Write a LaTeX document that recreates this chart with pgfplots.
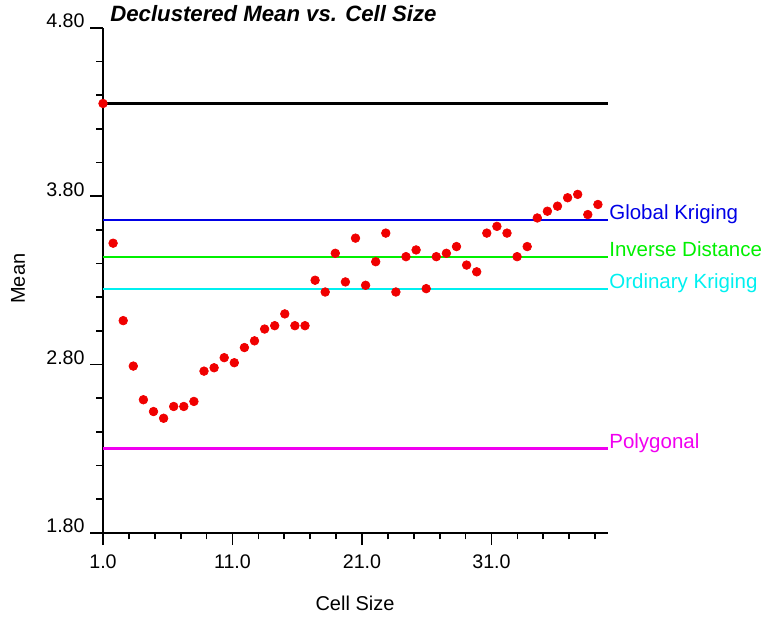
\documentclass[border=0pt]{standalone}
\usepackage{fontspec}
\setmainfont{Liberation Sans}
\usepackage{pgfplots}
\pgfplotsset{compat=1.18}
\definecolor{gkblue}{HTML}{0000E6}
\definecolor{idgreen}{HTML}{00F000}
\definecolor{okcyan}{HTML}{00F0F0}
\definecolor{polymag}{HTML}{F000F0}
\definecolor{ptred}{HTML}{F00000}

\begin{document}
\begin{tikzpicture}
\begin{axis}[
  width=303pt, height=303pt, scale only axis,
  xmin=1, xmax=40, ymin=1.8, ymax=4.8,
  axis x line=bottom, axis y line=left,
  axis line style={line width=1.2pt, -},
  clip=false,
  xtick={1,11,21,31},
  minor xtick={3,5,7,9,13,15,17,19,23,25,27,29,33,35,37,39},
  ytick={1.8,2.8,3.8,4.8},
  minor ytick={2.0,2.2,2.4,2.6,3.0,3.2,3.4,3.6,4.0,4.2,4.4,4.6},
  tick align=outside,
  major tick length=7.5pt, minor tick length=4pt,
  every tick/.style={black, line width=1pt},
  /pgf/number format/assume math mode=true,
  tick label style={font=\fontsize{11.8}{13}\selectfont},
  xticklabel style={/pgf/number format/fixed, /pgf/number format/fixed zerofill, /pgf/number format/precision=1, yshift=-2pt},
  yticklabel style={/pgf/number format/fixed, /pgf/number format/fixed zerofill, /pgf/number format/precision=2, anchor=base east, xshift=0pt},
  xlabel={Cell Size}, ylabel={Mean},
  every axis x label/.style={at={(axis description cs:0.499,-0.139)}, anchor=center, font=\fontsize{12}{14}\selectfont},
  every axis y label/.style={at={(axis description cs:-0.168,0.503)}, anchor=center, rotate=90, font=\fontsize{12}{14}\selectfont},
  title={Declustered Mean vs. Cell Size},
  every axis title/.style={at={(axis description cs:0.003,1.0)}, anchor=south west, yshift=0pt, font=\fontsize{13.3}{15}\selectfont\bfseries\itshape},
]
\coordinate (O) at (rel axis cs:0,0);

% reference levels
\addplot[black, line width=1.3pt] coordinates {(1,4.35) (40,4.35)};
\addplot[gkblue, line width=1.3pt] coordinates {(1,3.66) (40,3.66)};
\addplot[idgreen, line width=1.3pt] coordinates {(1,3.44) (40,3.44)};
\addplot[okcyan, line width=1.3pt] coordinates {(1,3.25) (40,3.25)};
\addplot[polymag, line width=1.3pt] coordinates {(1,2.30) (40,2.30)};

\node[anchor=base west, text=gkblue, inner sep=0.6pt, font=\fontsize{12.3}{14}\selectfont] at (axis cs:40,3.66) {Global Kriging};
\node[anchor=base west, text=idgreen, inner sep=0.6pt, font=\fontsize{12.3}{14}\selectfont] at (axis cs:40,3.44) {Inverse Distance};
\node[anchor=base west, text=okcyan, inner sep=0.6pt, font=\fontsize{12.3}{14}\selectfont] at (axis cs:40,3.25) {Ordinary Kriging};
\node[anchor=base west, text=polymag, inner sep=0.6pt, font=\fontsize{12.3}{14}\selectfont] at (axis cs:40,2.30) {Polygonal};

% declustered mean
\addplot[only marks, mark=*, mark size=2.6pt, mark options={draw=ptred, fill=ptred}] coordinates {
  (1.00,4.35) (1.78,3.52) (2.56,3.06) (3.34,2.79) (4.12,2.59)
  (4.90,2.52) (5.68,2.48) (6.46,2.55) (7.24,2.55) (8.02,2.58)
  (8.80,2.76) (9.58,2.78) (10.36,2.84) (11.14,2.81) (11.92,2.90)
  (12.70,2.94) (13.48,3.01) (14.26,3.03) (15.04,3.10) (15.82,3.03)
  (16.60,3.03) (17.38,3.30) (18.16,3.23) (18.94,3.46) (19.72,3.29)
  (20.50,3.55) (21.28,3.27) (22.06,3.41) (22.84,3.58) (23.62,3.23)
  (24.40,3.44) (25.18,3.48) (25.96,3.25) (26.74,3.44) (27.52,3.46)
  (28.30,3.50) (29.08,3.39) (29.86,3.35) (30.64,3.58) (31.42,3.62)
  (32.20,3.58) (32.98,3.44) (33.76,3.50) (34.54,3.67) (35.32,3.71)
  (36.10,3.74) (36.88,3.79) (37.66,3.81) (38.44,3.69) (39.22,3.75)
};
\end{axis}
\path (O) ++(-61.8pt,-52.2pt) rectangle ++(460.2pt,371.4pt);
\end{tikzpicture}
\end{document}
